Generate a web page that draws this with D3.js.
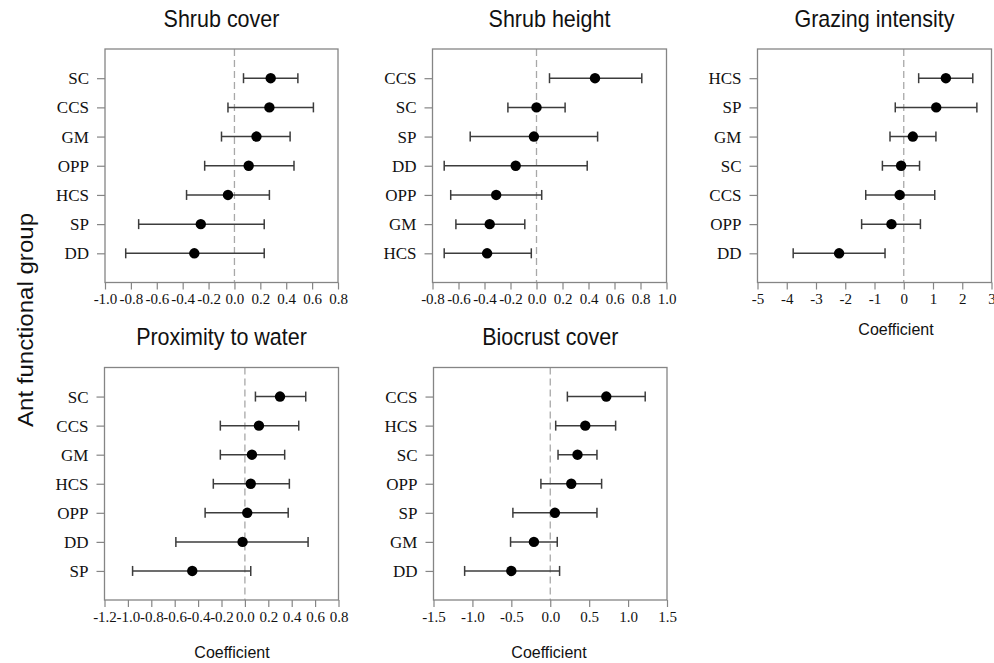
<!DOCTYPE html>
<html>
<head>
<meta charset="utf-8">
<script src="https://cdn.jsdelivr.net/npm/d3@7"></script>
<style>
	body { margin: 0; background: #fff; }
</style>
</head>
<body>
<script>

// global variables
var svg_w = 994;
var svg_h = 663;

// --- data ---

// shrub cover
var cover_groups = ["SC", "CCS", "GM", "OPP", "HCS", "SP", "DD"];
var cover_est = [0.28, 0.27, 0.17, 0.11, -0.05, -0.26, -0.31];
var cover_lo  = [0.07, -0.05, -0.10, -0.23, -0.37, -0.74, -0.84];
var cover_hi  = [0.49, 0.61, 0.43, 0.46, 0.27, 0.23, 0.23];
var cover_ticks = [-1.0, -0.8, -0.6, -0.4, -0.2, 0.0, 0.2, 0.4, 0.6, 0.8];

// shrub height
var height_groups = ["CCS", "SC", "SP", "DD", "OPP", "GM", "HCS"];
var height_est = [0.45, 0.00, -0.02, -0.16, -0.31, -0.36, -0.38];
var height_lo  = [0.10, -0.22, -0.51, -0.71, -0.66, -0.62, -0.71];
var height_hi  = [0.81, 0.22, 0.47, 0.39, 0.04, -0.09, -0.04];
var height_ticks = [-0.8, -0.6, -0.4, -0.2, 0.0, 0.2, 0.4, 0.6, 0.8, 1.0];

// grazing intensity
var graze_groups = ["HCS", "SP", "GM", "SC", "CCS", "OPP", "DD"];
var graze_est = [1.44, 1.11, 0.31, -0.09, -0.14, -0.42, -2.21];
var graze_lo  = [0.51, -0.29, -0.47, -0.73, -1.30, -1.44, -3.78];
var graze_hi  = [2.36, 2.50, 1.10, 0.54, 1.06, 0.57, -0.64];
var graze_ticks = [-5, -4, -3, -2, -1, 0, 1, 2, 3];

// proximity to water
var water_groups = ["SC", "CCS", "GM", "HCS", "OPP", "DD", "SP"];
var water_est = [0.30, 0.12, 0.06, 0.05, 0.02, -0.02, -0.45];
var water_lo  = [0.09, -0.21, -0.21, -0.27, -0.34, -0.59, -0.96];
var water_hi  = [0.52, 0.46, 0.34, 0.38, 0.37, 0.54, 0.05];
var water_ticks = [-1.2, -1.0, -0.8, -0.6, -0.4, -0.2, 0.0, 0.2, 0.4, 0.6, 0.8];

// biocrust cover
var crust_groups = ["CCS", "HCS", "SC", "OPP", "SP", "GM", "DD"];
var crust_est = [0.72, 0.45, 0.35, 0.27, 0.06, -0.21, -0.50];
var crust_lo  = [0.22, 0.07, 0.10, -0.12, -0.48, -0.51, -1.10];
var crust_hi  = [1.22, 0.84, 0.60, 0.66, 0.60, 0.09, 0.12];
var crust_ticks = [-1.5, -1.0, -0.5, 0.0, 0.5, 1.0, 1.5];


// panel layout (where each box sits on the page)
var panels = [
	{title: "Shrub cover", groups: cover_groups, est: cover_est, lo: cover_lo, hi: cover_hi,
	 ticks: cover_ticks, fmt: ".1f", x: 105, y: 49, w: 233, h: 233.5, xlab: null},
	{title: "Shrub height", groups: height_groups, est: height_est, lo: height_lo, hi: height_hi,
	 ticks: height_ticks, fmt: ".1f", x: 432.5, y: 49, w: 234, h: 233.5, xlab: null},
	{title: "Grazing intensity", groups: graze_groups, est: graze_est, lo: graze_lo, hi: graze_hi,
	 ticks: graze_ticks, fmt: "d", x: 757.5, y: 49, w: 234, h: 233.5, xlab: 896},
	{title: "Proximity to water", groups: water_groups, est: water_est, lo: water_lo, hi: water_hi,
	 ticks: water_ticks, fmt: ".1f", x: 104.5, y: 367.5, w: 234, h: 232.5, xlab: 232},
	{title: "Biocrust cover", groups: crust_groups, est: crust_est, lo: crust_lo, hi: crust_hi,
	 ticks: crust_ticks, fmt: ".1f", x: 433.5, y: 367.5, w: 233.5, h: 232.5, xlab: 549}
];

var frame_col = "#858585";
var bar_col = "#3c3c3c";
var sans = "'Liberation Sans', Arial, Helvetica, sans-serif";
var serif = "'Liberation Serif', 'Times New Roman', serif";
var stretch = 1.12;   // the original figure looks a bit taller than wide

var svg = d3.select("body")
	.append("svg")
	.attr("width", svg_w)
	.attr("height", svg_h);

// big y label
svg.append("text")
	.attr("transform", "translate(33,320) scale(1," + stretch + ") rotate(-90)")
	.attr("text-anchor", "middle")
	.attr("font-family", sans)
	.attr("font-size", 21.5)
	.attr("fill", "#111")
	.text("Ant functional group");


// the loop that draws every panel
panels.forEach(function(p) {

	var rows = p.groups.map(function(d, i) {
		return {grp: d, est: p.est[i], lo: p.lo[i], hi: p.hi[i]};
	});

	var x = d3.scaleLinear()
		.domain([p.ticks[0], p.ticks[p.ticks.length - 1]])
		.range([0, p.w]);

	var y = d3.scalePoint()
		.domain(p.groups)
		.range([0, p.h])
		.padding(1);

	var g = svg.append("g")
		.attr("transform", "translate(" + p.x + "," + p.y + ")");

	// title
	svg.append("text")
		.attr("transform", "translate(" + (p.x + p.w / 2) + "," + (p.y - 22.3) + ") scale(1," + stretch + ")")
		.attr("text-anchor", "middle")
		.attr("font-family", sans)
		.attr("font-size", 21.5)
		.attr("fill", "#111")
		.text(p.title);

	// axes  (plain hyphen for minus, like the original)
	var f = d3.format(p.fmt);
	var x_axis = d3.axisBottom(x)
		.tickValues(p.ticks)
		.tickFormat(function(d) { return f(d).replace("\u2212", "-"); })
		.tickSize(7)
		.tickPadding(4);

	var xg = g.append("g")
		.attr("transform", "translate(0," + p.h + ")")
		.call(x_axis);

	var y_axis = d3.axisLeft(y)
		.tickSize(8)
		.tickPadding(8);

	var yg = g.append("g").call(y_axis);

	[xg, yg].forEach(function(a) {
		a.select(".domain").remove();
		a.selectAll("line").attr("stroke", frame_col).attr("stroke-width", 1.2);
		a.selectAll("text").attr("fill", "#111").attr("font-family", serif);
	});
	xg.selectAll("text").attr("font-size", 15);
	yg.selectAll("text").attr("font-size", 17);

	// zero line, dashed
	g.append("line")
		.attr("x1", x(0))
		.attr("x2", x(0))
		.attr("y1", 0)
		.attr("y2", p.h)
		.attr("stroke", "#a8a8a8")
		.attr("stroke-width", 1.3)
		.attr("stroke-dasharray", "7,4");

	// the box
	g.append("rect")
		.attr("width", p.w)
		.attr("height", p.h)
		.attr("fill", "none")
		.attr("stroke", frame_col)
		.attr("stroke-width", 1.3);

	// error bars
	g.selectAll("line.bar")
		.data(rows)
		.enter()
		.append("line")
		.attr("class", "bar")
		.attr("x1", function(d) { return x(d.lo); })
		.attr("x2", function(d) { return x(d.hi); })
		.attr("y1", function(d) { return y(d.grp); })
		.attr("y2", function(d) { return y(d.grp); })
		.attr("stroke", bar_col)
		.attr("stroke-width", 1.5);

	["lo", "hi"].forEach(function(k) {
		g.selectAll("line.cap_" + k)
			.data(rows)
			.enter()
			.append("line")
			.attr("class", "cap_" + k)
			.attr("x1", function(d) { return x(d[k]); })
			.attr("x2", function(d) { return x(d[k]); })
			.attr("y1", function(d) { return y(d.grp) - 5; })
			.attr("y2", function(d) { return y(d.grp) + 5; })
			.attr("stroke", bar_col)
			.attr("stroke-width", 1.5);
	});

	// the dots
	g.selectAll("circle")
		.data(rows)
		.enter()
		.append("circle")
		.attr("cx", function(d) { return x(d.est); })
		.attr("cy", function(d) { return y(d.grp); })
		.attr("r", 5.2)
		.attr("fill", "#000");

	// x label, only on some panels
	if (p.xlab) {
		svg.append("text")
			.attr("x", p.xlab)
			.attr("y", p.y + p.h + (p.y > 300 ? 58 : 52))
			.attr("text-anchor", "middle")
			.attr("font-family", sans)
			.attr("font-size", 16)
			.attr("fill", "#111")
			.text("Coefficient");
	}
});

</script>
</body>
</html>
